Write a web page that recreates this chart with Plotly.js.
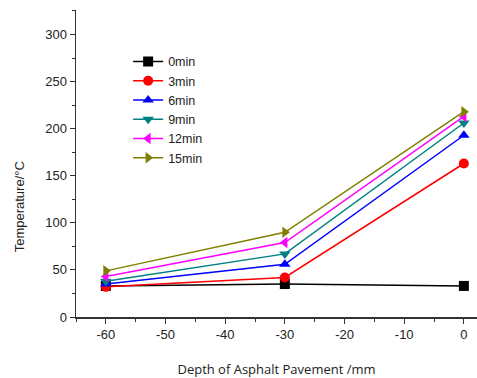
<!DOCTYPE html>
<html><head><meta charset="utf-8">
<script src="https://cdn.plot.ly/plotly-3.0.1.min.js"></script>
<style>html,body{margin:0;padding:0;background:#fff}</style>
</head><body>
<div id="chart" style="width:477px;height:378px"></div>
<script>
const depth = [-60, -30, 0];
const xTickVals = [-60, -50, -40, -30, -20, -10, 0];
const xTickText = ["-60", "-50", "-40", "-30", "-20", "-10", "0"];
const yTickVals = [0, 50, 100, 150, 200, 250, 300];
const seriesNames = ["0min", "3min", "6min", "9min", "12min", "15min"];
const t0 = [33, 35, 33];
const t3 = [32, 42, 163];
const t6 = [35, 56, 193];
const t9 = [38, 67, 206];
const t12 = [43, 79, 213];
const t15 = [49, 90, 218];
const seriesValues = [t0, t3, t6, t9, t12, t15];
const colors = ["#000000", "#ff0000", "#0000ff", "#008080", "#ff00ff", "#808000"];
const symbols = ["square", "circle", "triangle-up", "triangle-down", "triangle-left", "triangle-right"];

const traces = seriesNames.map((n, i) => ({
  x: depth, y: seriesValues[i], name: n, type: "scatter", mode: "lines+markers",
  line: {color: colors[i], width: 1.5},
  marker: {color: colors[i], symbol: symbols[i], size: 10}
}));

const layout = {
  width: 477, height: 378,
  margin: {l: 76, r: 0, t: 10, b: 61},
  paper_bgcolor: "#fff", plot_bgcolor: "#fff",
  font: {family: "Liberation Sans, Arial, sans-serif", color: "#222"},
  showlegend: true,
  legend: {x: 0.13, y: 0.88, xanchor: "left", yanchor: "top", bgcolor: "rgba(0,0,0,0)",
    font: {size: 12.5, color: "#222"}, tracegroupgap: 0, itemwidth: 30},
  annotations: [{
    text: "Temperature/°C", textangle: -90, xref: "paper", yref: "paper",
    x: -0.14, y: 0.36, xanchor: "center", yanchor: "middle", showarrow: false,
    font: {size: 13, color: "#222"}
  }],
  xaxis: {
    range: [-65, 2.2], tickmode: "array", tickvals: xTickVals, ticktext: xTickText,
    ticks: "outside", ticklen: 5, tickcolor: "#333", showgrid: false, zeroline: false,
    showline: true, linecolor: "#333", linewidth: 1.5,
    minor: {dtick: 5, tick0: 0, ticks: "outside", ticklen: 3, tickcolor: "#333", showgrid: false},
    tickfont: {size: 13, color: "#222"},
    title: {text: "Depth of Asphalt Pavement /mm", font: {family: "Open Sans, sans-serif", size: 13, color: "#222"}, standoff: 24}
  },
  yaxis: {
    range: [0, 326], tickmode: "array", tickvals: yTickVals,
    ticks: "outside", ticklen: 5, tickcolor: "#333", showgrid: false, zeroline: false,
    showline: true, linecolor: "#333", linewidth: 1.5,
    minor: {dtick: 25, tick0: 0, ticks: "outside", ticklen: 3, tickcolor: "#333", showgrid: false},
    tickfont: {size: 13, color: "#222"}
  }
};
Plotly.newPlot("chart", traces, layout, {displayModeBar: false, staticPlot: true});
</script>
</body></html>
